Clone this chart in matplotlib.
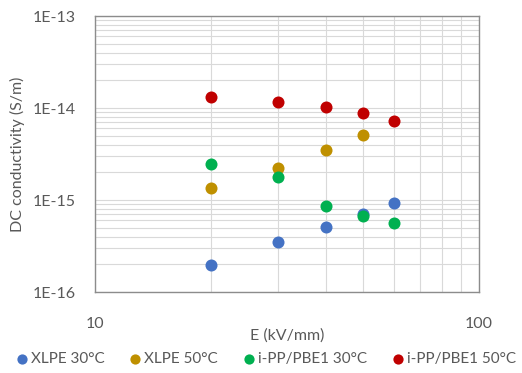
import matplotlib
matplotlib.use("Agg")
import matplotlib.pyplot as plt
from matplotlib.ticker import LogLocator, FixedLocator, NullFormatter

plt.rcParams['font.family'] = ['Lato', 'DejaVu Sans']

E = [20, 30, 40, 50, 60]
xlpe30 = [1.99e-16, 3.47e-16, 5.09e-16, 7.0e-16, 9.2e-16]
xlpe50 = [1.36e-15, 2.25e-15, 3.47e-15, 5.14e-15]
ipp30 = [2.44e-15, 1.78e-15, 8.6e-16, 6.76e-16, 5.58e-16]
ipp50 = [1.31e-14, 1.15e-14, 1.035e-14, 8.75e-15, 7.3e-15]

series = [
    ("XLPE 30°C", E, xlpe30, "#4472C4"),
    ("XLPE 50°C", E[:4], xlpe50, "#BF9000"),
    ("i-PP/PBE1 30°C", E, ipp30, "#00B050"),
    ("i-PP/PBE1 50°C", E, ipp50, "#C00000"),
]

fig = plt.figure(figsize=(5.22, 3.73), dpi=100)
ax = fig.add_axes([95/522, 1-292/373, (479-95)/522, (292-16)/373])

for label, xs, ys, c in series:
    ax.scatter(xs, ys, s=75, color=c, label=label, zorder=3, linewidths=0)

ax.set_xscale('log')
ax.set_yscale('log')
ax.set_xlim(10, 100)
ax.set_ylim(1e-16, 1e-13)

ax.xaxis.set_major_locator(FixedLocator([10, 100]))
ax.xaxis.set_minor_locator(LogLocator(base=10, subs=range(2, 10)))
ax.xaxis.set_minor_formatter(NullFormatter())
ax.set_xticklabels(['10', '100'])
ax.yaxis.set_major_locator(FixedLocator([1e-16, 1e-15, 1e-14, 1e-13]))
ax.yaxis.set_minor_locator(LogLocator(base=10, subs=range(2, 10)))
ax.yaxis.set_minor_formatter(NullFormatter())
ax.set_yticklabels(['1E-16', '1E-15', '1E-14', '1E-13'])

ax.grid(True, which='both', color='#D9D9D9', linewidth=0.8, zorder=0)
ax.set_axisbelow(True)
ax.tick_params(which='both', length=0, labelsize=11.5, colors='#595959')
ax.tick_params(axis='x', pad=18)
ax.tick_params(axis='y', pad=14)
for s in ax.spines.values():
    s.set_color('#8C8C8C')
    s.set_linewidth(1.0)

ax.set_xlabel('E (kV/mm)', fontsize=11.5, color='#595959', labelpad=-2)
ax.set_ylabel('DC conductivity (S/m)', fontsize=11.5, color='#595959', labelpad=5)

leg = fig.legend(loc='center', bbox_to_anchor=(265/522, 1-359/373), ncol=4,
                 frameon=False, fontsize=11, handletextpad=0.1, columnspacing=1.5,
                 markerscale=0.85, handlelength=1.0, borderaxespad=0, borderpad=0)
for t in leg.get_texts():
    t.set_color('#595959')

fig.savefig('out.png', dpi=100)
